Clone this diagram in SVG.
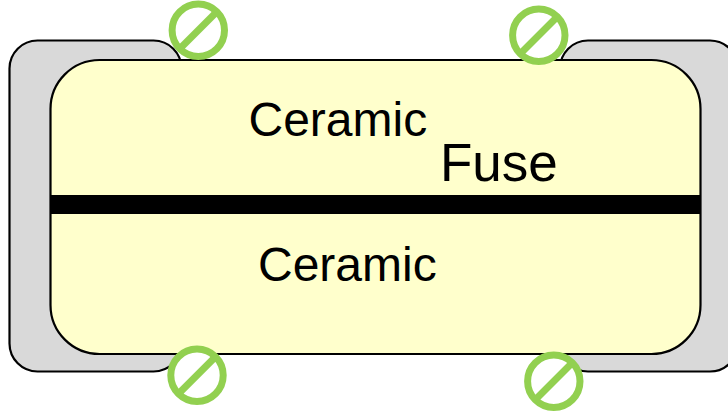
<svg xmlns="http://www.w3.org/2000/svg" width="728" height="412" viewBox="0 0 728 412">
<style>
.term{fill:#d9d9d9;stroke:#000;stroke-width:2.2}
.body{fill:#ffffcc;stroke:#000;stroke-width:2.2}
.t{font-family:"Liberation Sans",Arial,sans-serif;fill:#000}
.ring{fill:#fff;stroke:#92d050;stroke-width:7}
.slash{stroke:#92d050;stroke-width:7;fill:none}
</style>
<defs>
<g id="no">
<circle class="ring" r="26.2"/>
<line class="slash" x1="-18.5" y1="18.5" x2="18.5" y2="-18.5"/>
</g>
</defs>
<g id="terminal-left"><rect class="term" x="9.5" y="40.5" width="172" height="331" rx="28" ry="28"/></g>
<g id="terminal-right"><rect class="term" x="560" y="40.5" width="178" height="331" rx="28" ry="28"/></g>
<g id="body"><rect class="body" x="50.5" y="60" width="650" height="294" rx="49" ry="49"/></g>
<g id="fuse-bar"><rect x="50" y="195" width="651" height="19" fill="#000"/></g>
<g id="label-ceramic-top"><text class="t" x="248.5" y="135.5" font-size="48">Ceramic</text></g>
<g id="label-fuse"><text class="t" x="440" y="181" font-size="53">Fuse</text></g>
<g id="label-ceramic-bottom"><text class="t" x="258" y="281" font-size="48">Ceramic</text></g>
<g id="no-1"><use href="#no" x="198.3" y="30.3"/></g>
<g id="no-2"><use href="#no" x="538.8" y="35.3"/></g>
<g id="no-3"><use href="#no" x="197" y="375.3"/></g>
<g id="no-4"><use href="#no" x="553.8" y="381.3"/></g>
</svg>
